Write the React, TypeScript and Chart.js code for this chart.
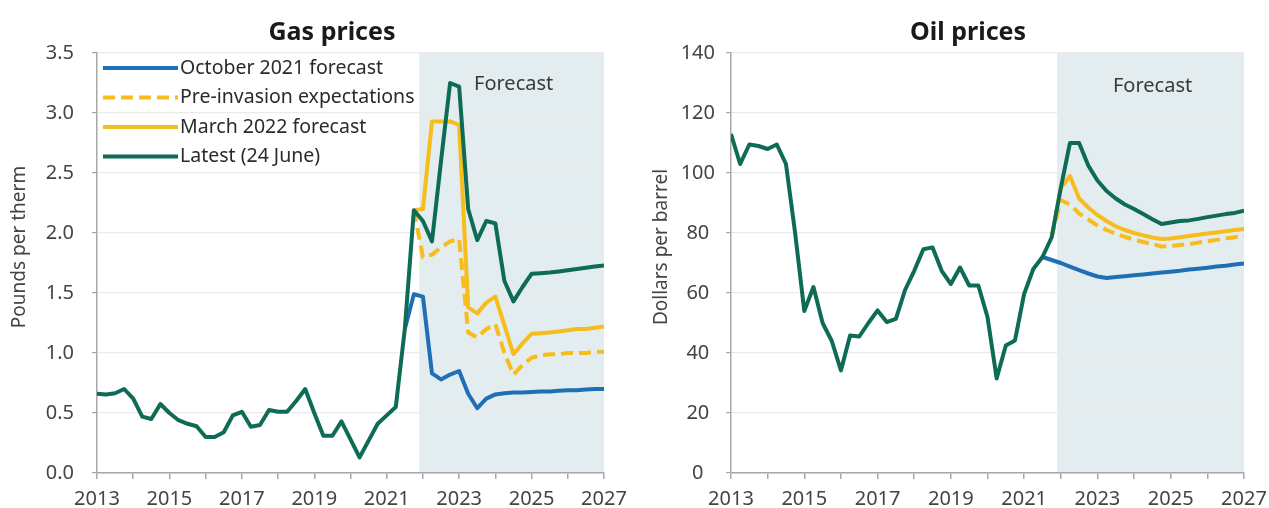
import React, { useEffect, useRef } from 'react';
import { Chart, registerables } from 'chart.js';

Chart.register(...registerables);

const FONT = '"Noto Sans", "DejaVu Sans", sans-serif';

// ---------- time axis (quarterly, 2013Q1 .. 2027Q1) ----------
const FIRST_YEAR = 2013;
const LAST_YEAR = 2027;
const FORECAST_START = 2021.9;
const QUARTERS: number[] = [];
for (let y = FIRST_YEAR; y < LAST_YEAR; y++) for (let q = 0; q < 4; q++) QUARTERS.push(y + q / 4);
QUARTERS.push(LAST_YEAR);

const X_LABEL_YEARS = [2013, 2015, 2017, 2019, 2021, 2023, 2025, 2027];

// ---------- gas prices (pounds per therm) ----------
const GAS_LATEST = [
  0.66, 0.655, 0.665, 0.7, 0.62, 0.47, 0.45, 0.575, 0.5, 0.44,
  0.41, 0.39, 0.3, 0.3, 0.34, 0.48, 0.51, 0.385, 0.4, 0.525,
  0.51, 0.51, 0.6, 0.7, 0.5, 0.31, 0.31, 0.43, 0.28, 0.13,
  0.27, 0.41, 0.48, 0.55, 1.2, 2.19, 2.1, 1.93, 2.6, 3.25,
  3.22, 2.2, 1.94, 2.1, 2.08, 1.6, 1.43, 1.55, 1.66, 1.665,
  1.67, 1.68, 1.69, 1.7, 1.71, 1.72, 1.73,
];
const GAS_OCT21_START = 34;
const GAS_OCT21 = [
  1.2, 1.49, 1.47, 0.83, 0.78, 0.82, 0.85, 0.66, 0.54, 0.62, 0.655, 0.665,
  0.67, 0.67, 0.675, 0.68, 0.68, 0.685, 0.69, 0.69, 0.695, 0.7, 0.7,
];
const GAS_PREINV_START = 35;
const GAS_PREINV = [
  2.19, 1.8, 1.82, 1.88, 1.93, 1.95, 1.17, 1.13, 1.2, 1.24, 1.0,
  0.82, 0.9, 0.96, 0.98, 0.99, 0.99, 1.0, 1.0, 1.0, 1.01, 1.01,
];
const GAS_MAR22_START = 35;
const GAS_MAR22 = [
  2.19, 2.2, 2.93, 2.93, 2.93, 2.9, 1.38, 1.33, 1.42, 1.47, 1.23,
  0.99, 1.08, 1.16, 1.165, 1.17, 1.18, 1.19, 1.2, 1.2, 1.21, 1.22,
];

// ---------- oil prices (dollars per barrel) ----------
const OIL_LATEST = [
  113, 103, 109.5, 109, 108, 109.5, 103, 80, 54, 62,
  50, 44, 34.2, 45.8, 45.5, 50, 54.2, 50.3, 51.4, 61,
  67.4, 74.6, 75.2, 67.4, 63, 68.5, 62.5, 62.5, 52, 31.5,
  42.5, 44.2, 59.7, 68, 72, 78.5, 95, 110, 110, 102.5,
  97.5, 94, 91.5, 89.5, 88, 86.3, 84.6, 83, 83.5, 84,
  84.2, 84.7, 85.3, 85.8, 86.3, 86.7, 87.4,
];
const OIL_OCT21_START = 34;
const OIL_OCT21 = [
  72, 71, 70, 68.8, 67.6, 66.5, 65.5, 65, 65.3, 65.6, 65.9, 66.2,
  66.5, 66.8, 67.1, 67.4, 67.8, 68.1, 68.4, 68.8, 69.1, 69.5, 69.8,
];
const OIL_PREINV_START = 35;
const OIL_PREINV = [
  78.5, 91, 89.5, 86.5, 84.5, 82.5, 81, 79.8, 78.7, 77.8, 77,
  76.3, 75.5, 75.6, 76, 76.3, 76.8, 77.2, 77.7, 78.2, 78.6, 79,
];
const OIL_MAR22_START = 35;
const OIL_MAR22 = [
  78.5, 95, 99, 91.5, 88.5, 86, 84, 82.2, 81, 80, 79.2,
  78.5, 78, 78.2, 78.6, 79, 79.4, 79.8, 80.2, 80.6, 81, 81.3,
];

// ---------- styles ----------
const C_BLUE = '#1f6fb6';
const C_YELLOW = '#f6bd1c';
const C_GREEN = '#0e6b56';
const C_AXIS = '#a8a8a8';
const C_GRID = '#ebebeb';
const C_TEXT = '#444444';
const C_SHADE = '#e3ecee';
const DASH = [12, 6];
const LINE_W = 4;

const LEGEND_LABELS = ['October 2021 forecast', 'Pre-invasion expectations', 'March 2022 forecast', 'Latest (24 June)'];

function toPoints(start: number, values: number[]) {
  return values.map((v, k) => ({ x: QUARTERS[start + k], y: v }));
}

const overlayPlugin = {
  id: 'overlay',
  beforeDraw(chart: any) {
    const { ctx, chartArea } = chart;
    const xs = chart.scales.x;
    const x0 = xs.getPixelForValue(FORECAST_START);
    ctx.save();
    ctx.fillStyle = C_SHADE;
    ctx.fillRect(x0, chartArea.top, chartArea.right - x0, chartArea.bottom - chartArea.top);
    ctx.restore();
  },
  afterDraw(chart: any, _args: any, opts: any) {
    const { ctx, chartArea } = chart;
    const xs = chart.scales.x;
    ctx.save();
    // title
    ctx.fillStyle = '#1a1a1a';
    ctx.font = `bold 25px ${FONT}`;
    ctx.textAlign = 'center';
    ctx.textBaseline = 'middle';
    ctx.fillText(opts.title, opts.titleX, 33);
    // y-axis title
    ctx.save();
    ctx.translate(opts.yTitleX, 247);
    ctx.rotate(-Math.PI / 2);
    ctx.font = `19px ${FONT}`;
    ctx.fillStyle = C_TEXT;
    ctx.fillText(opts.yTitle, 0, 0);
    ctx.restore();
    // forecast label
    const x0 = xs.getPixelForValue(FORECAST_START);
    ctx.font = `20px ${FONT}`;
    ctx.fillStyle = '#3a3a3a';
    ctx.fillText('Forecast', (x0 + chartArea.right) / 2 + 2, chartArea.top + opts.forecastDy);
    // legend
    if (opts.legend) {
      const ds = chart.data.datasets;
      const order = [3, 2, 1, 0];
      ctx.font = `19.5px ${FONT}`;
      ctx.textAlign = 'left';
      order.forEach((di: number, row: number) => {
        const d = ds[di];
        const y = chartArea.top + 15 + row * 29.5;
        ctx.strokeStyle = d.borderColor;
        ctx.lineWidth = LINE_W;
        ctx.setLineDash(d.borderDash || []);
        ctx.beginPath();
        ctx.moveTo(chartArea.left + 6, y);
        ctx.lineTo(chartArea.left + 81, y);
        ctx.stroke();
        ctx.setLineDash([]);
        ctx.fillStyle = '#2a2a2a';
        ctx.fillText(d.label, chartArea.left + 83, y);
      });
    }
    ctx.restore();
  },
};

function buildConfig(p: {
  title: string; titleX: number; forecastDy: number; legend: boolean;
  latest: number[]; oct: [number, number[]]; pre: [number, number[]]; mar: [number, number[]];
  yMax: number; yStep: number; yDecimals: number; yTitle: string; yTitleX: number; yWidth: number;
  yTickPad: number; padRight: number;
}): any {
  const line = { pointRadius: 0, borderWidth: LINE_W, tension: 0, fill: false, borderJoinStyle: 'round', spanGaps: false };
  return {
    type: 'line',
    data: {
      datasets: [
        { ...line, label: LEGEND_LABELS[3], data: toPoints(0, p.latest), borderColor: C_GREEN, order: 0 },
        { ...line, label: LEGEND_LABELS[2], data: toPoints(p.mar[0], p.mar[1]), borderColor: C_YELLOW, order: 1 },
        { ...line, label: LEGEND_LABELS[1], data: toPoints(p.pre[0], p.pre[1]), borderColor: C_YELLOW, borderDash: DASH, order: 2 },
        { ...line, label: LEGEND_LABELS[0], data: toPoints(p.oct[0], p.oct[1]), borderColor: C_BLUE, order: 3 },
      ],
    },
    options: {
      animation: false,
      responsive: false,
      maintainAspectRatio: false,
      events: [],
      layout: { padding: { left: 0, right: p.padRight, top: 53, bottom: 0 } },
      plugins: {
        legend: { display: false },
        tooltip: { enabled: false },
        title: { display: false },
        overlay: { title: p.title, titleX: p.titleX, forecastDy: p.forecastDy, legend: p.legend, yTitle: p.yTitle, yTitleX: p.yTitleX },
      },
      scales: {
        x: {
          type: 'linear',
          min: FIRST_YEAR,
          max: LAST_YEAR,
          afterFit: (s: any) => { s.height = 35; },
          grid: { drawOnChartArea: false, drawTicks: true, tickLength: 6, color: C_AXIS, tickColor: C_AXIS, lineWidth: 1.5 },
          border: { color: C_AXIS, width: 1.5 },
          ticks: {
            stepSize: 1,
            autoSkip: false,
            maxRotation: 0,
            minRotation: 0,
            padding: 8,
            color: C_TEXT,
            font: { family: FONT, size: 20 },
            callback: (v: any) => (X_LABEL_YEARS.includes(Number(v)) ? String(v) : ''),
          },
        },
        y: {
          min: 0,
          max: p.yMax,
          afterFit: (s: any) => { s.width = p.yWidth; },
          grid: { color: C_GRID, lineWidth: 1.2, drawTicks: true, tickLength: 5, tickColor: C_AXIS },
          border: { color: C_AXIS, width: 1.5 },
          ticks: {
            stepSize: p.yStep,
            padding: p.yTickPad,
            crossAlign: 'center',
            color: C_TEXT,
            font: { family: FONT, size: 20 },
            callback: (v: any) => Number(v).toFixed(p.yDecimals),
          },
          title: { display: false },
        },
      },
    },
    plugins: [overlayPlugin],
  };
}

export default function App() {
  const gasRef = useRef<HTMLCanvasElement>(null);
  const oilRef = useRef<HTMLCanvasElement>(null);

  useEffect(() => {
    const gas = new Chart(gasRef.current as HTMLCanvasElement, buildConfig({
      title: 'Gas prices', titleX: 332, forecastDy: 31, legend: true,
      latest: GAS_LATEST,
      oct: [GAS_OCT21_START, GAS_OCT21],
      pre: [GAS_PREINV_START, GAS_PREINV],
      mar: [GAS_MAR22_START, GAS_MAR22],
      yMax: 3.5, yStep: 0.5, yDecimals: 1, yTitle: 'Pounds per therm', yTitleX: 20, yWidth: 97,
      yTickPad: 18, padRight: 36,
    }));
    const oil = new Chart(oilRef.current as HTMLCanvasElement, buildConfig({
      title: 'Oil prices', titleX: 328, forecastDy: 33, legend: false,
      latest: OIL_LATEST,
      oct: [OIL_OCT21_START, OIL_OCT21],
      pre: [OIL_PREINV_START, OIL_PREINV],
      mar: [OIL_MAR22_START, OIL_MAR22],
      yMax: 140, yStep: 20, yDecimals: 0, yTitle: 'Dollars per barrel', yTitleX: 22, yWidth: 91,
      yTickPad: 11, padRight: 36,
    }));
    return () => { gas.destroy(); oil.destroy(); };
  }, []);

  return (
    <div style={{ position: 'absolute', left: 0, top: 0, width: 1269, height: 508, background: '#ffffff', overflow: 'hidden' }}>
      <canvas ref={gasRef} width={640} height={508} style={{ position: 'absolute', left: 0, top: 0 }} />
      <canvas ref={oilRef} width={640} height={508} style={{ position: 'absolute', left: 640, top: 0 }} />
    </div>
  );
}
